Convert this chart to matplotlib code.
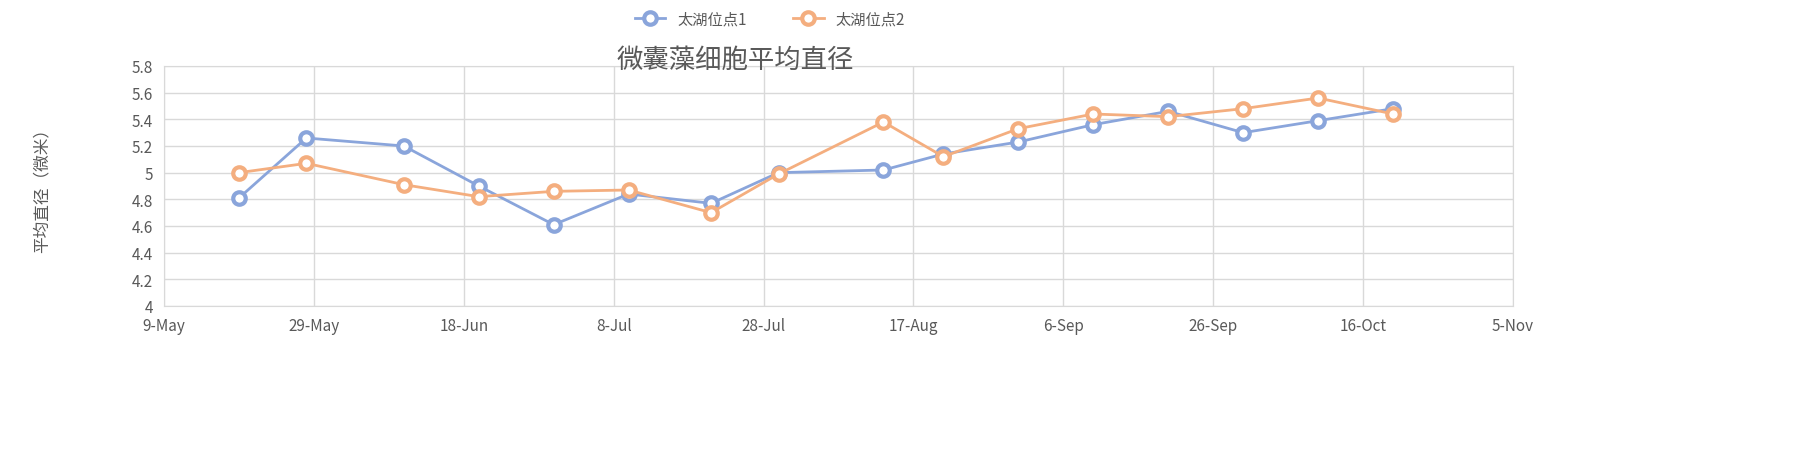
import datetime as dt

import matplotlib.pyplot as plt
import matplotlib.dates as mdates

plt.rcParams['font.family'] = ['Noto Sans CJK SC', 'DejaVu Sans']

dates = ["2020-05-19", "2020-05-28", "2020-06-10", "2020-06-20", "2020-06-30",
         "2020-07-10", "2020-07-21", "2020-07-30", "2020-08-13", "2020-08-21",
         "2020-08-31", "2020-09-10", "2020-09-20", "2020-09-30", "2020-10-10",
         "2020-10-20"]
site1 = [4.81, 5.26, 5.20, 4.90, 4.61, 4.84, 4.77, 5.00, 5.02, 5.14,
         5.23, 5.36, 5.46, 5.30, 5.39, 5.48]
site2 = [5.00, 5.07, 4.91, 4.82, 4.86, 4.87, 4.70, 4.99, 5.38, 5.12,
         5.33, 5.44, 5.42, 5.48, 5.56, 5.44]
x = [dt.datetime.strptime(d, "%Y-%m-%d") for d in dates]

fig = plt.figure(figsize=(18.01, 4.52), dpi=100)
ax = fig.add_axes([164 / 1801, 1 - 307 / 452, (1513 - 164) / 1801, (307 - 67) / 452])

style = dict(linewidth=2, marker="o", markersize=9, markerfacecolor="white",
             markeredgewidth=3)
ax.plot(x, site1, color="#8aa5db", label="太湖位点1", **style)
ax.plot(x, site2, color="#f4ae7f", label="太湖位点2", **style)

start = dt.datetime(2020, 5, 9)
ax.set_xlim(start, dt.datetime(2020, 11, 5))
ax.set_xticks([start + dt.timedelta(days=20 * i) for i in range(10)])
ax.xaxis.set_major_formatter(mdates.DateFormatter("%-d-%b"))
ax.set_ylim(4, 5.8)
ax.set_yticks([4 + 0.2 * i for i in range(10)])
ax.set_yticklabels(["4", "4.2", "4.4", "4.6", "4.8", "5", "5.2", "5.4", "5.6", "5.8"])
ax.grid(True, color="#d9d9d9", linewidth=1)
ax.tick_params(colors="#595959", labelsize=11, length=0, pad=8)
for s in ax.spines.values():
    s.set_color("#d9d9d9")

fig.text(42 / 1801, 1 - 187 / 452, "平均直径（微米）", rotation=90, ha="center",
         va="center", color="#595959", fontsize=12)
fig.text(735 / 1801, 1 - 60 / 452, "微囊藻细胞平均直径", ha="center", va="center",
         fontsize=19, color="#595959")
fig.legend(loc="center", bbox_to_anchor=(770 / 1801, 1 - 20 / 452), ncol=2,
           frameon=False, fontsize=11, labelcolor="#595959", columnspacing=3)

fig.savefig("out.png", dpi=100)
